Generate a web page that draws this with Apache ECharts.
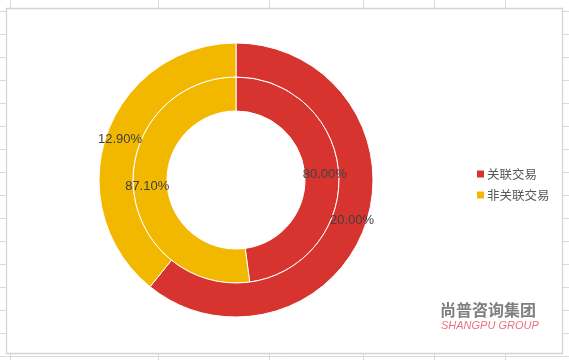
<!DOCTYPE html>
<html>
<head>
<meta charset="utf-8">
<script src="https://cdn.jsdelivr.net/npm/echarts@6/dist/echarts.min.js"></script>
<style>html,body{margin:0;padding:0;background:#fff;}#c{width:569px;height:360px;}</style>
</head>
<body>
<div id="c"></div>
<script>
const categories = ['关联交易', '非关联交易'];
const innerValues = [80.00, 87.10];
const outerValues = [20.00, 12.90];
const colors = ['#D73430', '#F2B800'];

const chart = echarts.init(document.getElementById('c'), null, {renderer: 'canvas'});

// sheet gridlines (decoration)
const grid = [];
const gridColor = '#dadada';
for (let k = 0; k <= 15; k++) {
  const y = 11.5 + 23 * k;
  grid.push({type: 'line', z: 0, shape: {x1: 0, y1: y, x2: 569, y2: y}, style: {stroke: gridColor, lineWidth: 1}});
}
[10.5, 158.5, 269.5, 363.5, 434.5, 505.5].forEach(x => {
  grid.push({type: 'line', z: 0, shape: {x1: x, y1: 0, x2: x, y2: 360}, style: {stroke: gridColor, lineWidth: 1}});
});
grid.push({type: 'rect', z: 1, shape: {x: 6.5, y: 8.5, width: 556, height: 345}, style: {fill: '#fff', stroke: '#d4d4d4', lineWidth: 1.3}});
grid.push({type: 'text', z: 2, left: 440, top: 302, style: {text: '尚普咨询集团', fill: '#7f7f7f', font: 'bold 16px "Noto Sans CJK SC"', letterSpacing: 1.5}});
grid.push({type: 'text', z: 2, left: 441, top: 320, style: {text: 'SHANGPU GROUP', fill: '#E97384', font: 'italic 11px "Liberation Sans"', letterSpacing: 1}});

const mk = vals => categories.map((c, i) => ({name: c, value: vals[i], itemStyle: {color: colors[i]}}));
const labelCfg = {
  show: true, position: 'inside',
  formatter: p => p.value.toFixed(2) + '%',
  color: '#404040', fontSize: 13, fontFamily: 'Liberation Sans'
};

chart.setOption({
  animation: false,
  backgroundColor: '#fff',
  graphic: grid,
  legend: {
    orient: 'vertical', left: 470, top: 162,
    icon: 'rect', itemWidth: 9, itemHeight: 9, itemGap: 7,
    textStyle: {color: '#595959', fontSize: 12.5, fontFamily: 'Noto Sans CJK SC', lineHeight: 14, padding: [0, 0, 0, -3]},
    data: categories
  },
  series: [
    {
      name: 'inner', type: 'pie', center: [236, 180], radius: [69, 103],
      startAngle: 90, clockwise: true, avoidLabelOverlap: false,
      itemStyle: {borderColor: '#fff', borderWidth: 1},
      label: labelCfg, labelLine: {show: false},
      emphasis: {disabled: true},
      data: mk(innerValues)
    },
    {
      name: 'outer', type: 'pie', center: [236, 180], radius: [103, 137],
      startAngle: 90, clockwise: true, avoidLabelOverlap: false,
      itemStyle: {borderColor: '#fff', borderWidth: 1},
      label: labelCfg, labelLine: {show: false},
      emphasis: {disabled: true},
      data: mk(outerValues)
    }
  ]
});
</script>
</body>
</html>
